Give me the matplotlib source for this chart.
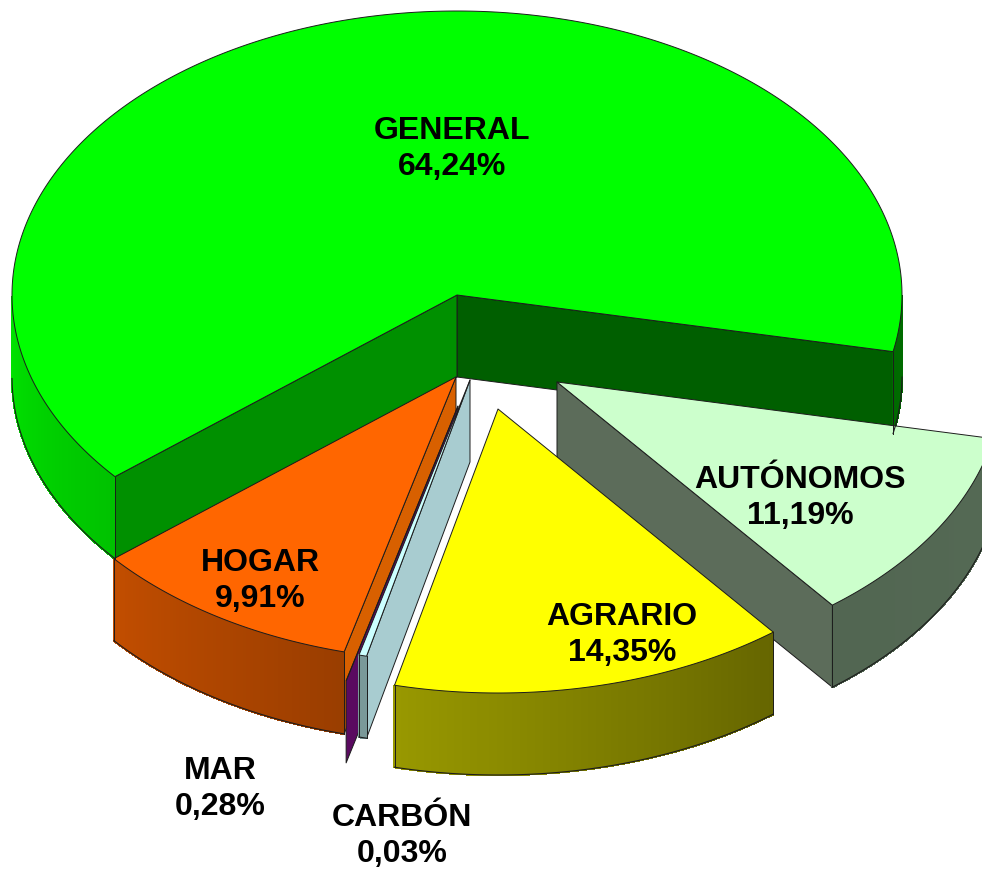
"""
plot.py — Exploded 3D-looking pie of shares per regime, drawn by hand
          because matplotlib's own pie has no depth.
"""

import numpy as np
import matplotlib
matplotlib.use("Agg")
import matplotlib.pyplot as plt

plt.rcParams["font.family"] = ["Liberation Sans", "DejaVu Sans"]

# slices run counter-clockwise from the first angle
CATEGORIES = ["GENERAL", "HOGAR", "MAR", "CARBÓN", "AGRARIO", "AUTÓNOMOS"]
SHARES     = [64.24, 9.91, 0.28, 0.03, 14.35, 11.19]

TOP_COLORS  = ["#00ff00", "#ff6600", "#660066", "#ccffff", "#ffff00", "#ccffcc"]
FACE_COLORS = ["#009000", "#d86000", "#5a0a60", "#a8ccd0", "#808000", "#5c6c5a"]

# layout, in pixels of the output picture
START_ANGLE = -11.5
RX, RY      = 445, 284
DEPTH       = 82
TIPS        = [(457, 296), (456, 378), (458, 407), (470, 381), (498, 410), (557, 383)]
LABEL_POS   = [(452, 149), (260, 581), (220, 789), (402, 836), (622, 635), (800, 498)]
DRAW_ORDER  = [0, 5, 1, 2, 3, 4]   # AGRARIO overlaps the AUTÓNOMOS wall
RIGHT_FACE  = "#005f00"            # GENERAL has a second visible cut face
EDGE        = "#1c1c1c"

# light falling on the outer wall, by angle around the pie
SHADE_ANGLES = [0, 180, 220, 256, 308, 360]
SHADE_VALUES = [0.42, 0.90, 0.76, 0.60, 0.40, 0.42]


def rim(tip, angle):
    """Point on the top rim of a slice, angle in degrees."""
    t = np.radians(angle)
    return tip[0] + RX * np.cos(t), tip[1] - RY * np.sin(t)


def draw_face(ax, tip, angle, color):
    """Flat cut face between the tip and the rim at this angle."""
    x, y = rim(tip, angle)
    ax.fill([tip[0], tip[0], x, x],
            [tip[1], tip[1] + DEPTH, y + DEPTH, y],
            facecolor=color, edgecolor=EDGE, linewidth=0.7, joinstyle="round")


def draw_wall(ax, tip, a0, a1, color):
    """Outer curved wall, only the part turned to the viewer, in thin strips."""
    if a1 <= a0:
        return
    base = np.array(matplotlib.colors.to_rgb(color))
    ts = np.linspace(a0, a1, int((a1 - a0) * 2) + 2)
    xs, ys = rim(tip, ts)
    front = np.sin(np.radians(ts)) <= 0.001
    for i in range(len(ts) - 1):
        if not (front[i] and front[i + 1]):
            continue
        shade = np.interp((ts[i] + ts[i + 1]) / 2 % 360, SHADE_ANGLES, SHADE_VALUES)
        c = base * shade
        ax.fill([xs[i], xs[i + 1], xs[i + 1], xs[i]],
                [ys[i], ys[i + 1], ys[i + 1] + DEPTH, ys[i] + DEPTH],
                facecolor=c, edgecolor=c, linewidth=1.0, antialiased=False)
    ax.plot(xs, np.where(front, ys + DEPTH, np.nan), color=EDGE, linewidth=0.8)
    ends = np.flatnonzero(front)[[0, -1]]
    for i in ends:
        ax.plot([xs[i], xs[i]], [ys[i], ys[i] + DEPTH], color=EDGE, linewidth=0.7)


def draw_top(ax, tip, a0, a1, color):
    ts = np.linspace(a0, a1, int((a1 - a0) * 2) + 2)
    xs, ys = rim(tip, ts)
    ax.fill(np.r_[tip[0], xs], np.r_[tip[1], ys],
            facecolor=color, edgecolor=EDGE, linewidth=0.7, joinstyle="round")


fig = plt.figure(figsize=(9.82, 8.70), dpi=100, facecolor="white")
ax = fig.add_axes([0, 0, 1, 1])
ax.set_xlim(0, 982)
ax.set_ylim(870, 0)
ax.axis("off")

ends = START_ANGLE + np.cumsum(SHARES) * 3.6
starts = np.r_[START_ANGLE, ends[:-1]]

for i in DRAW_ORDER:
    name = CATEGORIES[i]
    a0, a1 = starts[i], ends[i]
    # the two sliver slices would be invisible at true size
    if name == "MAR":
        a1 = a0
    elif name == "CARBÓN":
        a0 = a1 - 1.0
    tip = TIPS[i]
    if np.cos(np.radians(a0)) > 0:
        draw_face(ax, tip, a0, RIGHT_FACE if name == "GENERAL" else FACE_COLORS[i])
    if np.cos(np.radians(a1)) < 0:
        draw_face(ax, tip, a1, FACE_COLORS[i])
    draw_wall(ax, tip, a0, a1, TOP_COLORS[i])
    draw_top(ax, tip, a0, a1, TOP_COLORS[i])

for name, share, (x, y) in zip(CATEGORIES, SHARES, LABEL_POS):
    label = f"{name}\n{share:.2f}%".replace(".", ",")
    ax.text(x, y, label, ha="center", va="center", multialignment="center",
            fontsize=23, fontweight="bold", color="black", linespacing=1.3)

fig.savefig("out.png", dpi=100, facecolor="white")
